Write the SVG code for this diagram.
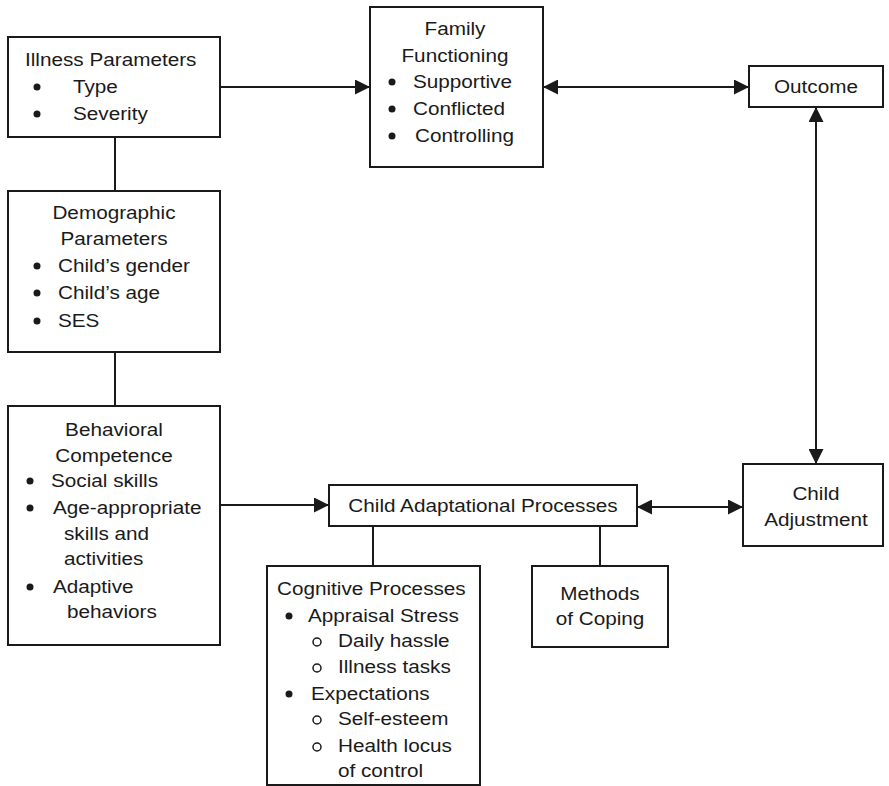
<svg xmlns="http://www.w3.org/2000/svg" width="889" height="786" viewBox="0 0 889 786">
<defs>
<style>
.box{fill:#fff;stroke:#1a1a1a;stroke-width:2}
.ln{stroke:#1a1a1a;stroke-width:2;fill:none}
text{font-family:"Liberation Sans",Arial,sans-serif;font-size:18.5px;fill:#1a1a1a;transform-box:fill-box;transform:scaleX(1.12)}
.c{text-anchor:middle;transform-origin:center}
.s{transform-origin:left center}
.dot{fill:#1a1a1a}
.ring{fill:none;stroke:#1a1a1a;stroke-width:1.5}
</style>
<marker id="ah" viewBox="0 0 15 15" markerWidth="15" markerHeight="15" refX="15" refY="7.5" markerUnits="userSpaceOnUse" orient="auto-start-reverse">
<path d="M0,0 L15,7.5 L0,15 z" fill="#1a1a1a"/>
</marker>
</defs>
<rect width="889" height="786" fill="#fff"/>
<g id="connectors">
<line class="ln" x1="115" y1="137" x2="115" y2="191"/>
<line class="ln" x1="115" y1="352" x2="115" y2="406"/>
<line class="ln" x1="220" y1="87" x2="370" y2="87" marker-end="url(#ah)"/>
<line class="ln" x1="543" y1="87" x2="749" y2="87" marker-start="url(#ah)" marker-end="url(#ah)"/>
<line class="ln" x1="816" y1="107" x2="816" y2="464" marker-start="url(#ah)" marker-end="url(#ah)"/>
<line class="ln" x1="220" y1="505" x2="329" y2="505" marker-end="url(#ah)"/>
<line class="ln" x1="637" y1="507" x2="743" y2="507" marker-start="url(#ah)" marker-end="url(#ah)"/>
<line class="ln" x1="373" y1="526" x2="373" y2="566"/>
<line class="ln" x1="600" y1="526" x2="600" y2="566"/>
</g>
<g id="illness">
<rect class="box" x="8" y="37" width="212" height="100"/>
<text class="s" x="25" y="66">Illness Parameters</text>
<circle class="dot" cx="37" cy="87" r="3.5"/>
<text class="s" x="73" y="93">Type</text>
<circle class="dot" cx="37" cy="114" r="3.5"/>
<text class="s" x="73" y="120">Severity</text>
</g>
<g id="family">
<rect class="box" x="370" y="7" width="173" height="160"/>
<text class="c" x="455" y="35">Family</text>
<text class="c" x="455" y="62">Functioning</text>
<circle class="dot" cx="392" cy="82" r="3.5"/>
<text class="s" x="413" y="88">Supportive</text>
<circle class="dot" cx="392" cy="109" r="3.5"/>
<text class="s" x="413" y="115">Conflicted</text>
<circle class="dot" cx="392" cy="136" r="3.5"/>
<text class="s" x="415" y="142">Controlling</text>
</g>
<g id="outcome">
<rect class="box" x="749" y="66" width="134" height="41"/>
<text class="c" x="816" y="93">Outcome</text>
</g>
<g id="demographic">
<rect class="box" x="8" y="191" width="212" height="161"/>
<text class="c" x="114" y="219">Demographic</text>
<text class="c" x="114" y="245">Parameters</text>
<circle class="dot" cx="37" cy="266" r="3.5"/>
<text class="s" x="58" y="272">Child’s gender</text>
<circle class="dot" cx="37" cy="293" r="3.5"/>
<text class="s" x="58" y="299">Child’s age</text>
<circle class="dot" cx="37" cy="321" r="3.5"/>
<text class="s" x="58" y="327">SES</text>
</g>
<g id="behavioral">
<rect class="box" x="8" y="406" width="212" height="239"/>
<text class="c" x="114" y="436">Behavioral</text>
<text class="c" x="114" y="462">Competence</text>
<circle class="dot" cx="30" cy="481" r="3.5"/>
<text class="s" x="51" y="487">Social skills</text>
<circle class="dot" cx="30" cy="508" r="3.5"/>
<text class="s" x="53" y="514">Age-appropriate</text>
<text class="s" x="64" y="540">skills and</text>
<text class="s" x="64" y="565">activities</text>
<circle class="dot" cx="30" cy="587" r="3.5"/>
<text class="s" x="53" y="593">Adaptive</text>
<text class="s" x="67" y="618">behaviors</text>
</g>
<g id="adaptational">
<rect class="box" x="329" y="485" width="308" height="41"/>
<text class="c" x="483" y="512">Child Adaptational Processes</text>
</g>
<g id="cognitive">
<rect class="box" x="267" y="566" width="213" height="219"/>
<text class="s" x="277" y="595">Cognitive Processes</text>
<circle class="dot" cx="289" cy="616" r="3.5"/>
<text class="s" x="308" y="622">Appraisal Stress</text>
<circle class="ring" cx="317" cy="642" r="4"/>
<text class="s" x="338" y="647">Daily hassle</text>
<circle class="ring" cx="317" cy="668" r="4"/>
<text class="s" x="338" y="673">Illness tasks</text>
<circle class="dot" cx="289" cy="694" r="3.5"/>
<text class="s" x="311" y="700">Expectations</text>
<circle class="ring" cx="317" cy="720" r="4"/>
<text class="s" x="338" y="725">Self-esteem</text>
<circle class="ring" cx="317" cy="747" r="4"/>
<text class="s" x="338" y="752">Health locus</text>
<text class="s" x="338" y="777">of control</text>
</g>
<g id="coping">
<rect class="box" x="532" y="566" width="136" height="81"/>
<text class="c" x="600" y="600">Methods</text>
<text class="c" x="600" y="625">of Coping</text>
</g>
<g id="adjustment">
<rect class="box" x="743" y="464" width="140" height="82"/>
<text class="c" x="816" y="500">Child</text>
<text class="c" x="816" y="526">Adjustment</text>
</g>
</svg>
